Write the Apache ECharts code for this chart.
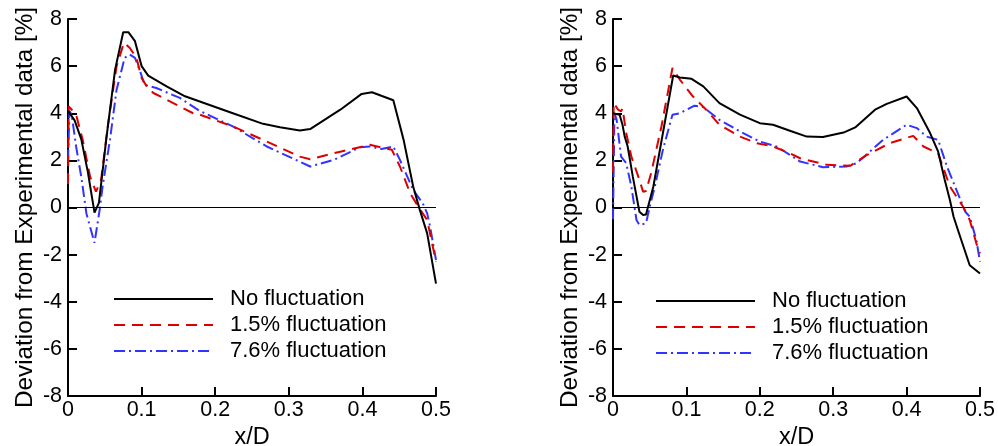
<!DOCTYPE html>
<html>
<head>
<meta charset="utf-8">
<script src="https://cdn.jsdelivr.net/npm/echarts@6/dist/echarts.min.js"></script>
<style>html,body{margin:0;padding:0;background:#fff}#c{width:998px;height:446px}</style>
</head>
<body>
<div id="c"></div>
<script>
// ---- Data ----
const seriesNames = ['No fluctuation', '1.5% fluctuation', '7.6% fluctuation'];
const xTicks = [0, 0.1, 0.2, 0.3, 0.4, 0.5];
const yTicks = [-8, -6, -4, -2, 0, 2, 4, 6, 8];

// Left panel
const leftNoX  = [0, 0.009, 0.018, 0.027, 0.036, 0.042, 0.052, 0.064, 0.075, 0.082, 0.091, 0.1, 0.109, 0.134, 0.159, 0.179, 0.224, 0.265, 0.288, 0.315, 0.329, 0.37, 0.399, 0.413, 0.442, 0.456, 0.469, 0.478, 0.488, 0.5];
const leftNoY  = [4.1, 3.7, 2.9, 1.5, -0.22, 0.2, 2.9, 5.85, 7.44, 7.44, 7.06, 6.0, 5.6, 5.14, 4.72, 4.5, 4.0, 3.55, 3.41, 3.27, 3.33, 4.15, 4.82, 4.89, 4.55, 2.87, 0.89, -0.1, -1.1, -3.23];
const left15X  = [0, 0.001, 0.011, 0.02, 0.03, 0.038, 0.045, 0.054, 0.066, 0.076, 0.084, 0.093, 0.1, 0.107, 0.116, 0.143, 0.17, 0.179, 0.224, 0.27, 0.315, 0.329, 0.37, 0.41, 0.44, 0.451, 0.465, 0.476, 0.488, 0.5];
const left15Y  = [1.0, 4.29, 3.94, 2.87, 1.31, 0.67, 1.17, 3.44, 6.0, 6.99, 6.77, 6.35, 5.5, 5.14, 4.86, 4.43, 4.0, 3.94, 3.44, 2.8, 2.16, 2.05, 2.37, 2.66, 2.45, 1.74, 0.6, 0.03, -0.53, -2.3];
const left76X  = [0, 0.002, 0.005, 0.011, 0.018, 0.025, 0.036, 0.043, 0.047, 0.057, 0.066, 0.077, 0.084, 0.091, 0.098, 0.104, 0.12, 0.152, 0.179, 0.224, 0.27, 0.329, 0.361, 0.397, 0.41, 0.426, 0.442, 0.451, 0.469, 0.482, 0.488, 0.492, 0.5];
const left76Y  = [2.0, 4.1, 3.94, 2.59, 1.31, -0.25, -1.5, -0.1, 0.89, 2.87, 5.0, 6.35, 6.49, 6.35, 5.78, 5.21, 5.07, 4.65, 4.1, 3.44, 2.59, 1.74, 2.02, 2.56, 2.59, 2.48, 2.59, 2.02, 0.74, 0.18, -0.25, -0.82, -2.23];

// Right panel
const rightNoX = [0, 0.009, 0.013, 0.016, 0.02, 0.027, 0.036, 0.041, 0.045, 0.055, 0.082, 0.091, 0.107, 0.123, 0.145, 0.173, 0.2, 0.218, 0.241, 0.264, 0.286, 0.314, 0.33, 0.357, 0.373, 0.4, 0.414, 0.432, 0.443, 0.452, 0.459, 0.464, 0.473, 0.486, 0.5];
const rightNoY = [4.0, 3.94, 3.5, 3.0, 2.59, 1.31, -0.18, -0.32, -0.3, 0.89, 5.6, 5.52, 5.46, 5.14, 4.43, 3.94, 3.58, 3.51, 3.26, 3.01, 2.99, 3.18, 3.4, 4.15, 4.4, 4.71, 4.22, 3.16, 2.37, 1.17, 0.32, -0.39, -1.24, -2.45, -2.8];
const right15X = [0, 0.001, 0.007, 0.011, 0.013, 0.018, 0.025, 0.036, 0.041, 0.045, 0.052, 0.066, 0.081, 0.091, 0.109, 0.127, 0.145, 0.173, 0.196, 0.218, 0.241, 0.255, 0.291, 0.323, 0.346, 0.377, 0.409, 0.423, 0.443, 0.459, 0.477, 0.486, 0.495, 0.5];
const right15Y = [1.5, 4.43, 4.15, 4.08, 4.2, 3.16, 2.16, 1.17, 0.67, 0.7, 1.46, 3.44, 5.92, 5.43, 4.71, 4.15, 3.51, 3.01, 2.73, 2.59, 2.3, 2.09, 1.81, 1.77, 2.23, 2.73, 3.04, 2.59, 2.3, 0.89, 0.03, -0.53, -1.52, -1.95];
const right76X = [0, 0.002, 0.005, 0.011, 0.018, 0.025, 0.032, 0.036, 0.045, 0.05, 0.057, 0.068, 0.081, 0.091, 0.111, 0.123, 0.145, 0.173, 0.2, 0.223, 0.255, 0.286, 0.318, 0.332, 0.368, 0.4, 0.414, 0.427, 0.443, 0.455, 0.468, 0.48, 0.486, 0.495, 0.5];
const right76Y = [-0.5, 4.0, 3.72, 2.16, 1.88, 0.89, -0.53, -0.74, -0.67, 0.03, 0.89, 2.45, 3.94, 4.0, 4.32, 4.26, 3.72, 3.23, 2.8, 2.59, 1.95, 1.71, 1.74, 1.88, 2.87, 3.51, 3.37, 3.01, 2.87, 1.74, 0.74, -0.18, -0.39, -1.38, -2.3];

// ---- Build chart ----
const pairs = (xs, ys) => xs.map((x, i) => [x, ys[i]]);
const FONT = '"Liberation Sans", Arial, sans-serif';
const colors = ['#000000', '#dd0000', '#3333ff'];
const lineTypes = ['solid', [11, 7], [11, 4, 2, 4]];

function makeAxes(idx) {
  const x = {
    type: 'value', gridIndex: idx, min: xTicks[0], max: xTicks[xTicks.length - 1], interval: 0.1,
    name: 'x/D', nameLocation: 'middle', nameGap: 27,
    nameTextStyle: { fontFamily: FONT, fontSize: 23.5, color: '#000' },
    axisLine: { show: true, onZero: false, lineStyle: { color: '#000', width: 2 } },
    axisTick: { show: true, inside: true, length: 9, lineStyle: { color: '#000', width: 2 } },
    axisLabel: { fontFamily: FONT, fontSize: 21.5, color: '#000', margin: 3,
      formatter: v => (v === 0 ? '0' : v.toFixed(1)) },
    splitLine: { show: false }
  };
  const y = {
    type: 'value', gridIndex: idx, min: yTicks[0], max: yTicks[yTicks.length - 1], interval: 2,
    name: 'Deviation from Experimental data [%]', nameLocation: 'middle', nameGap: 31,
    nameTextStyle: { fontFamily: FONT, fontSize: 24.3, color: '#000' },
    axisLine: { show: true, onZero: false, lineStyle: { color: '#000', width: 2 } },
    axisTick: { show: true, inside: true, length: 9, lineStyle: { color: '#000', width: 2 } },
    axisLabel: { fontFamily: FONT, fontSize: 21.5, color: '#000', margin: 6 },
    splitLine: { show: false }
  };
  return [x, y];
}
const [x0, y0] = makeAxes(0);
const [x1, y1] = makeAxes(1);

const panels = [
  [pairs(leftNoX, leftNoY), pairs(left15X, left15Y), pairs(left76X, left76Y)],
  [pairs(rightNoX, rightNoY), pairs(right15X, right15Y), pairs(right76X, right76Y)]
];

const series = [];
panels.forEach((panel, p) => {
  panel.forEach((data, s) => {
    const item = {
      name: seriesNames[s], type: 'line', xAxisIndex: p, yAxisIndex: p,
      data: data, symbol: 'none', showSymbol: false, animation: false,
      lineStyle: { color: colors[s], width: 2, type: lineTypes[s] },
      itemStyle: { color: colors[s] }, z: 3 - s
    };
    if (s === 0) {
      item.markLine = {
        silent: true, symbol: 'none', label: { show: false }, animation: false,
        lineStyle: { color: '#000', width: 1, type: 'solid' },
        data: [{ yAxis: 0 }]
      };
    }
    series.push(item);
  });
});

function makeLegend(left, top) {
  return {
    orient: 'vertical', left: left, top: top, padding: 0,
    itemWidth: 99, itemHeight: 14, itemGap: 4,
    selectedMode: false,
    itemStyle: { opacity: 0, color: 'rgba(0,0,0,0)', borderWidth: 0 },
    textStyle: { fontFamily: FONT, fontSize: 22, color: '#000', padding: [0, 0, 0, 12] },
    data: seriesNames
  };
}

const chart = echarts.init(document.getElementById('c'), null, { renderer: 'canvas' });
chart.setOption({
  backgroundColor: '#fff',
  animation: false,
  grid: [
    { left: 68, right: 562, top: 19, bottom: 50, containLabel: false, outerBoundsMode: 'none' },
    { left: 613, right: 18, top: 19, bottom: 50, containLabel: false, outerBoundsMode: 'none' }
  ],
  xAxis: [x0, x1],
  yAxis: [y0, y1],
  legend: [makeLegend(113, 288), makeLegend(655, 290)],
  series: series
});
</script>
</body>
</html>
